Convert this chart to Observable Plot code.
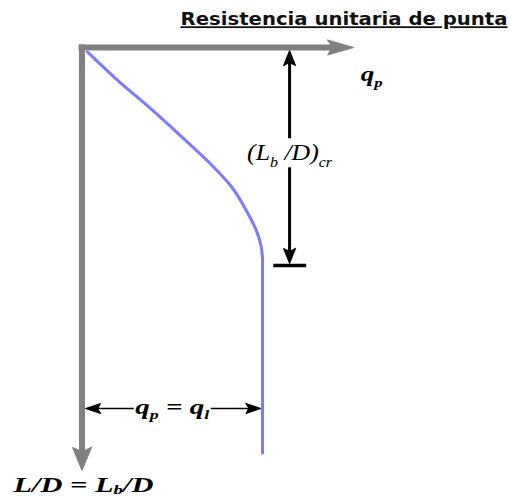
<!DOCTYPE html>
<html>
<head>
<meta charset="utf-8">
<script src="https://cdn.jsdelivr.net/npm/d3@7"></script>
<script src="https://cdn.jsdelivr.net/npm/@observablehq/plot@0.6"></script>
<style>
html,body{margin:0;padding:0;background:#fff;}
</style>
</head>
<body>
<div id="chart"></div>
<script>
// ---- data (normalized: q_l = 1 on the q axis, (L_b/D)_cr = 1 on the depth axis) ----
const title = "Resistencia unitaria de punta";

// curved part of q_p versus L/D
const curveQ  = [0.03, 0.21, 0.36, 0.545, 0.73, 0.823, 0.915, 0.97, 0.994, 1.0];
const curveLD = [0.02, 0.16, 0.266, 0.404, 0.549, 0.633, 0.755, 0.848, 0.92, 0.965];
// constant part (q_p = q_l) below the critical depth
const limitQ = 1.0;
const limitLDRange = [0.965, 1.86];

const axisQEnd = 1.505;   // tip of the q_p axis
const axisLDEnd = 1.94;   // tip of the L/D axis
const critQ = 1.15;       // where the (L_b/D)_cr dimension is drawn
const critLD = 1.0;       // (L_b/D)_cr
const limitLD = 1.656;    // depth at which q_p = q_l is dimensioned

const labelText = ["q_p", "(L_b /D)_cr", "q_p = q_l", "L/D = L_b/D"];
const labelQ  = [1.605, 1.15, 0.5, 0.008];
const labelLD = [0.125, 0.483, 1.654, 2.006];

// ---- layout / style ----
const W = 511, H = 499;
const X0 = 81.5, XU = 180.5, Y0 = 47, YU = 218;
const gray = "#808080", blue = "#7b7bff", ink = "#000";
const labelStyle = [
  {fontSize: 20, fontWeight: "bold",   width: 22,  sub: 0.28},
  {fontSize: 23, fontWeight: "normal", width: 85,  sub: 0.28},
  {fontSize: 20, fontWeight: "bold",   width: 74,  sub: 0.25},
  {fontSize: 21, fontWeight: "bold",   width: 140, sub: 0.12}
];
const critGap = 14.5 / YU;               // half-gap in the (L_b/D)_cr line for its label
const limitGap = (labelStyle[2].width / 2 + 1.5) / XU; // half-gap in the q_p = q_l line

const dart = {
  draw(context, l, r) {
    context.moveTo(-r, 0);
    context.lineTo(0, -l);
    context.lineTo(r, 0);
    context.lineTo(0, -l * 0.18);
    context.closePath();
  }
};

const curve = curveQ.map((q, i) => ({q, ld: curveLD[i]}));
const limitLine = limitLDRange.map(ld => ({q: limitQ, ld}));
const critSegments = [
  {y1: 10 / YU, y2: labelLD[1] - critGap},
  {y1: labelLD[1] + critGap, y2: critLD - 12 / YU}
];
const limitSegments = [
  {x1: 10 / XU, x2: labelQ[2] - limitGap},
  {x1: labelQ[2] + limitGap, x2: limitQ - 10 / XU}
];

const marks = [
  // gray axes
  Plot.link([0], {x1: -3.5 / XU, y1: 0, x2: axisQEnd - 20 / XU, y2: 0, stroke: gray, strokeWidth: 6}),
  Plot.link([0], {x1: 0, y1: -3 / YU, x2: 0, y2: axisLDEnd - 18 / YU, stroke: gray, strokeWidth: 6}),
  Plot.vector([0], {x: axisQEnd, y: 0, rotate: 90, length: 26, r: 7.5, anchor: "end", shape: dart, fill: gray, stroke: gray, strokeWidth: 1}),
  Plot.vector([0], {x: 0, y: axisLDEnd, rotate: 180, length: 23, r: 9.5, anchor: "end", shape: dart, fill: gray, stroke: gray, strokeWidth: 1}),
  // q_p curve
  Plot.line(curve, {x: "q", y: "ld", stroke: blue, strokeWidth: 3, curve: "monotone-y"}),
  Plot.line(limitLine, {x: "q", y: "ld", stroke: blue, strokeWidth: 3}),
  // (L_b/D)_cr dimension
  Plot.link(critSegments, {x1: critQ, y1: "y1", x2: critQ, y2: "y2", stroke: ink, strokeWidth: 3}),
  Plot.vector([0], {x: critQ, y: 3 / YU, rotate: 0, length: 15, r: 6, anchor: "end", shape: dart, fill: ink, stroke: ink, strokeWidth: 1}),
  Plot.vector([0], {x: critQ, y: critLD - 2 / YU, rotate: 180, length: 15, r: 6, anchor: "end", shape: dart, fill: ink, stroke: ink, strokeWidth: 1}),
  Plot.link([0], {x1: critQ - 0.09, y1: critLD, x2: critQ + 0.092, y2: critLD, stroke: ink, strokeWidth: 3.5}),
  // q_p = q_l dimension
  Plot.link(limitSegments, {x1: "x1", y1: limitLD, x2: "x2", y2: limitLD, stroke: ink, strokeWidth: 1.6}),
  Plot.vector([0], {x: 3.5 / XU, y: limitLD, rotate: 270, length: 15, r: 5, anchor: "end", shape: dart, fill: ink, stroke: ink, strokeWidth: 1}),
  Plot.vector([0], {x: limitQ - 1.5 / XU, y: limitLD, rotate: 90, length: 15, r: 5, anchor: "end", shape: dart, fill: ink, stroke: ink, strokeWidth: 1}),
  // title
  Plot.text([title], {frameAnchor: "top-right", dx: -4, dy: 19, textAnchor: "end", lineAnchor: "middle",
    fontFamily: "DejaVu Sans", fontWeight: "bold", fontSize: 18, fill: "#111"}),
  // labels
  ...labelText.map((t, i) => Plot.text([i], {
    x: d => labelQ[d], y: d => labelLD[d], text: d => labelText[d],
    fontFamily: "Liberation Serif", fontStyle: "italic",
    fontSize: labelStyle[i].fontSize, fontWeight: labelStyle[i].fontWeight,
    lineAnchor: "middle", fill: ink
  }))
];

const chart = Plot.plot({
  width: W, height: H,
  marginTop: 0, marginRight: 0, marginBottom: 0, marginLeft: 0,
  style: {background: "#fff", overflow: "visible"},
  x: {type: "linear", domain: [0, 1], range: [X0, X0 + XU], axis: null},
  y: {type: "linear", domain: [0, 1], range: [Y0, Y0 + YU], axis: null},
  marks
});
document.getElementById("chart").appendChild(chart);

// ---- text post-processing: subscripts, widths, underline ----
const NS = "http://www.w3.org/2000/svg";
function subscripts(el, fs, sub) {
  const s = el.textContent;
  if (!s.includes("_")) return;
  const parts = s.split(/_([A-Za-z]+)/);
  el.textContent = "";
  let off = 0;
  parts.forEach((p, i) => {
    if (!p) return;
    const t = document.createElementNS(NS, "tspan");
    if (i % 2) {
      const target = sub * fs;
      t.setAttribute("dy", target - off); off = target;
      t.setAttribute("font-size", fs * 0.62);
    } else if (off) {
      t.setAttribute("dy", -off); off = 0;
    }
    t.textContent = p;
    el.appendChild(t);
  });
}
const groups = [...chart.querySelectorAll('g[aria-label="text"]')];
const titleEl = groups[0].querySelector("text");
titleEl.setAttribute("text-decoration", "underline");
titleEl.setAttribute("textLength", 327);
titleEl.setAttribute("lengthAdjust", "spacingAndGlyphs");
labelText.forEach((t, i) => {
  const el = groups[1 + i].querySelector("text");
  subscripts(el, labelStyle[i].fontSize, labelStyle[i].sub);
  el.setAttribute("textLength", labelStyle[i].width);
  el.setAttribute("lengthAdjust", "spacingAndGlyphs");
});
</script>
</body>
</html>
